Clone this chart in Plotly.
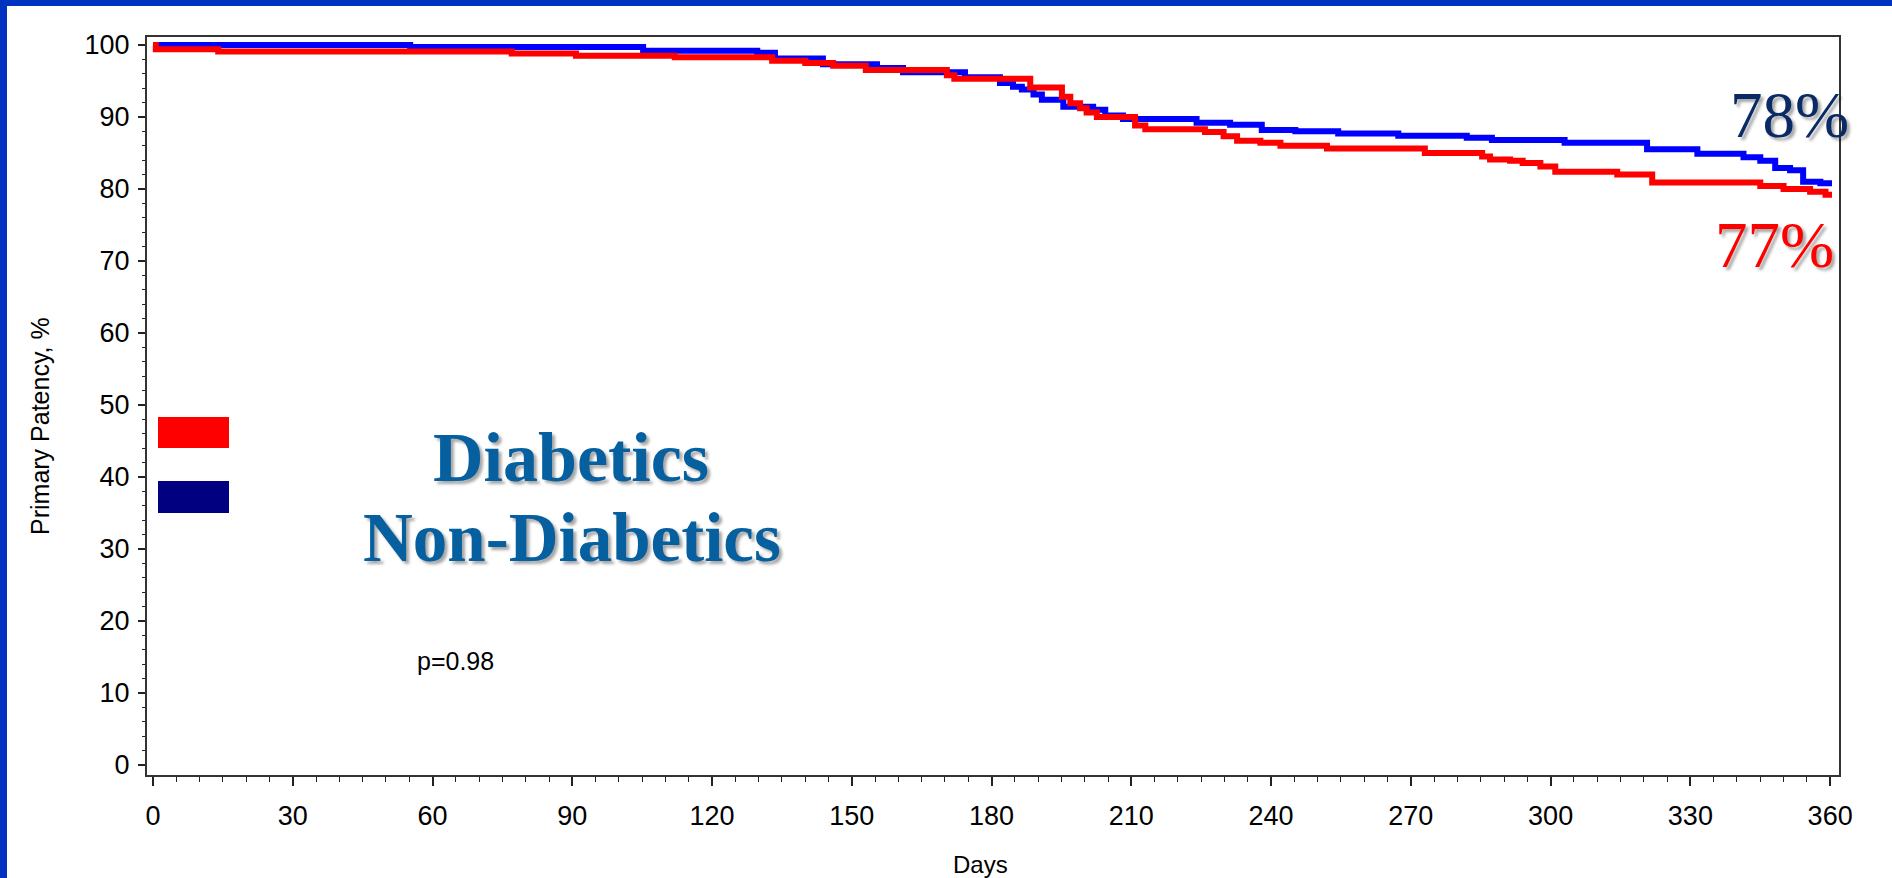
import plotly.graph_objects as go

# ---- data ----
nondiab_days = [0, 55.2, 105.2, 129.7, 133.5, 143.8, 155.4, 161.0, 174.3, 181.8, 184.6,
                186.5, 189.0, 190.8, 195.4, 201.8, 204.4, 208.2, 224.0, 231.2, 238.0,
                245.2, 254.4, 267.3, 282.0, 287.4, 303.0, 320.7, 331.5, 341.4, 345.0,
                348.2, 351.4, 354.2, 357.9, 360.4]
nondiab_pct = [100, 99.7, 99.2, 98.9, 98.1, 97.3, 96.8, 96.2, 95.5, 94.7, 94.2,
               93.8, 93.1, 92.4, 91.4, 91.0, 90.2, 89.7, 89.2, 88.9, 88.2,
               88.0, 87.7, 87.4, 87.1, 86.8, 86.4, 85.5, 84.9, 84.4, 83.9,
               82.9, 82.6, 81.0, 80.8, 80.8]

diab_days = [0, 0.6, 14.0, 77.0, 90.8, 112.0, 132.9, 140.0, 146.0, 153.0, 170.4,
             172.0, 188.3, 195.1, 196.9, 199.0, 200.4, 202.6, 210.8, 213.0, 225.8,
             229.8, 232.7, 237.7, 242.0, 252.0, 273.0, 285.3, 287.0, 291.3, 294.0,
             297.8, 301.0, 314.3, 321.8, 345.0, 350.0, 355.7, 359.0, 360.4]
diab_pct = [100, 99.4, 99.1, 98.8, 98.5, 98.3, 97.8, 97.5, 97.1, 96.5, 95.8,
            95.3, 94.1, 92.8, 91.9, 91.2, 90.6, 90.0, 88.8, 88.3, 87.9,
            87.3, 86.7, 86.4, 86.0, 85.6, 85.0, 84.5, 84.1, 83.9, 83.6,
            83.1, 82.4, 82.0, 80.9, 80.4, 80.0, 79.6, 79.2, 79.2]

x_ticks = list(range(0, 361, 30))
y_ticks = list(range(0, 101, 10))
end_labels = ["78%", "77%"]
group_names = ["Diabetics", "Non-Diabetics"]
p_text = "p=0.98"
x_title = "Days"
y_title = "Primary Patency, %"

# ---- layout geometry (pixels) ----
W, H = 1892, 878
L, R, T, B = 147, 53, 37, 103
PW, PH = W - L - R, H - T - B


def px(xp):
    return (xp - L) / PW


def py(yp):
    return (H - B - yp) / PH


fig = go.Figure()
fig.add_trace(go.Scatter(x=nondiab_days, y=nondiab_pct, mode="lines",
                         line=dict(color="#0000FF", width=6, shape="hv"),
                         name="Non-Diabetics", showlegend=False))
fig.add_trace(go.Scatter(x=diab_days, y=diab_pct, mode="lines",
                         line=dict(color="#FF0000", width=6, shape="hv"),
                         name="Diabetics", showlegend=False))

axis_font = dict(family="Arial, Liberation Sans", size=27, color="black")

fig.update_xaxes(range=[-1.29, 361.9], tickvals=x_ticks, ticks="outside", ticklen=9,
                 tickwidth=1.5, tickcolor="#222", showline=True, linewidth=2,
                 linecolor="#333", mirror=True, showgrid=False, zeroline=False,
                 tickfont=axis_font, ticklabelstandoff=7,
                 minor=dict(dtick=5, ticks="outside", ticklen=5, tickcolor="#222", tickwidth=1.2))
fig.update_yaxes(range=[-1.39, 101.1], tickvals=y_ticks, ticks="outside", ticklen=7,
                 tickwidth=1.5, tickcolor="#222", showline=True, linewidth=2,
                 linecolor="#333", mirror=True, showgrid=False, zeroline=False,
                 tickfont=axis_font, ticklabelstandoff=3,
                 minor=dict(dtick=2, ticks="outside", ticklen=3, tickcolor="#222", tickwidth=1.2))

shapes = [
    # blue slide frame (top and left)
    dict(type="rect", xref="paper", yref="paper", x0=px(0), x1=px(W), y0=py(6), y1=py(0),
         fillcolor="#0033C0", line=dict(width=0)),
    dict(type="rect", xref="paper", yref="paper", x0=px(0), x1=px(7), y0=py(H), y1=py(0),
         fillcolor="#0033C0", line=dict(width=0)),
    # legend keys
    dict(type="rect", xref="paper", yref="paper", x0=px(158), x1=px(229), y0=py(448), y1=py(417),
         fillcolor="#FF0000", line=dict(width=0)),
    dict(type="rect", xref="paper", yref="paper", x0=px(158), x1=px(229), y0=py(513), y1=py(481),
         fillcolor="#000080", line=dict(width=0)),
]

shadow = "3px 3px 3px rgba(0,0,0,0.35)"
ann = [
    dict(text=y_title, x=px(40), y=py(426), xref="paper", yref="paper", textangle=-90,
         showarrow=False, xanchor="center", yanchor="middle",
         font=dict(family="Arial, Liberation Sans", size=25, color="black")),
    dict(text=x_title, x=px(980), y=py(864), xref="paper", yref="paper",
         showarrow=False, xanchor="center", yanchor="middle",
         font=dict(family="Arial, Liberation Sans", size=24, color="black")),
    dict(text=group_names[0], x=px(571), y=py(457), xref="paper", yref="paper",
         showarrow=False, xanchor="center", yanchor="middle",
         font=dict(family="Liberation Serif, Times New Roman", size=70, color="#0660A0",
                   weight="bold", shadow=shadow)),
    dict(text=group_names[1], x=px(572), y=py(538), xref="paper", yref="paper",
         showarrow=False, xanchor="center", yanchor="middle",
         font=dict(family="Liberation Serif, Times New Roman", size=69, color="#0660A0",
                   weight="bold", shadow=shadow)),
    dict(text=end_labels[0], x=px(1789), y=py(115), xref="paper", yref="paper",
         showarrow=False, xanchor="center", yanchor="middle",
         font=dict(family="Liberation Serif, Times New Roman", size=65, color="#0A2A66",
                   shadow=shadow)),
    dict(text=end_labels[1], x=px(1774), y=py(245), xref="paper", yref="paper",
         showarrow=False, xanchor="center", yanchor="middle",
         font=dict(family="Liberation Serif, Times New Roman", size=65, color="#FF0000",
                   shadow=shadow)),
    dict(text=p_text, x=px(455), y=py(661), xref="paper", yref="paper",
         showarrow=False, xanchor="center", yanchor="middle",
         font=dict(family="Arial, Liberation Sans", size=25, color="black")),
]

fig.update_layout(width=W, height=H, margin=dict(l=L, r=R, t=T, b=B, autoexpand=False),
                  paper_bgcolor="white", plot_bgcolor="white",
                  shapes=shapes, annotations=ann, showlegend=False)

fig.write_html("out.html", config={"displayModeBar": False},
               post_script="document.body.style.margin='0px';document.body.style.overflow='hidden';")
